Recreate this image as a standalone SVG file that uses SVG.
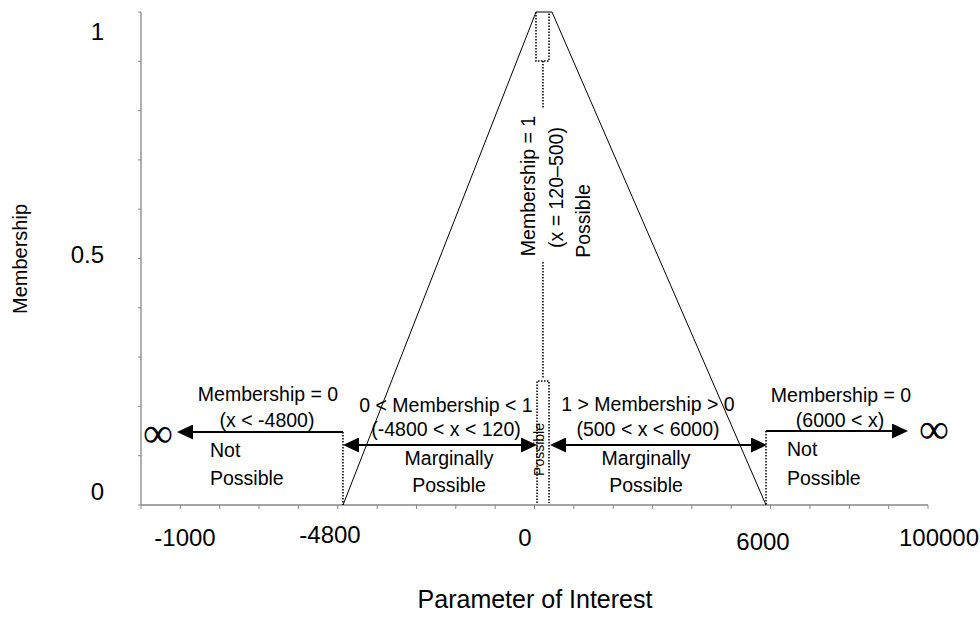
<svg xmlns="http://www.w3.org/2000/svg" width="980" height="624" viewBox="0 0 980 624">
<style>
text{font-family:"Liberation Sans",Arial,sans-serif;fill:#000}
.a{font-size:19.5px}
.n{font-size:24px}
.c{text-anchor:middle}
.e{text-anchor:end}
.ax{stroke:#868686;stroke-width:1.3;fill:none}
.tk{stroke:#868686;stroke-width:1;fill:none}
.leg{stroke:#000;stroke-width:1;fill:none}
.dot{stroke:#000;stroke-width:1.5;stroke-dasharray:1.5 1.5;fill:none}
.arr{stroke:#000;stroke-width:2;fill:none}
.inf{font-family:"Liberation Serif",serif;font-size:42px}
</style>
<defs>
<marker id="ah" markerUnits="userSpaceOnUse" markerWidth="16" markerHeight="15" refX="0" refY="7.5" orient="auto-start-reverse" viewBox="0 0 16 15">
<path d="M0,0 L16,7.5 L0,15 z" fill="#000"/>
</marker>
</defs>
<g id="axes">
<line class="ax" x1="141" y1="12" x2="141" y2="505"/>
<line class="ax" x1="141" y1="505" x2="928" y2="505"/>
<path class="tk" d="M138,12H141M138,61.3H141M138,110.6H141M138,159.9H141M138,209.2H141M138,258.5H141M138,307.8H141M138,357.1H141M138,406.4H141M138,455.7H141M138,505H141"/>
<path class="tk" d="M141,505V509M180.35,505V509M219.7,505V509M259.05,505V509M298.4,505V509M337.75,505V509M377.1,505V509M416.45,505V509M455.8,505V509M495.15,505V509M534.5,505V509M573.85,505V509M613.2,505V509M652.55,505V509M691.9,505V509M731.25,505V509M770.6,505V509M809.95,505V509M849.3,505V509M888.65,505V509M928,505V509"/>
<text class="n e" x="104" y="40">1</text>
<text class="n e" x="104" y="263">0.5</text>
<text class="n e" x="104" y="500">0</text>
<text class="n c" x="185" y="546">-1000</text>
<text class="n c" x="330" y="543">-4800</text>
<text class="n c" x="525" y="546">0</text>
<text class="n c" x="763" y="550">6000</text>
<text class="n c" x="939" y="546">100000</text>
<text class="c" font-size="20" transform="translate(27,259) rotate(-90)">Membership</text>
<text class="c" font-size="25" x="535" y="608">Parameter of Interest</text>
</g>
<g id="membership-curve">
<path class="leg" d="M343,505 L536,12 L552,12 L766,505"/>
</g>
<g id="connectors">
<line class="dot" x1="343" y1="432" x2="343" y2="505"/>
<line class="dot" x1="766" y1="431" x2="766" y2="505"/>
<path class="dot" d="M536,12 V61 H549 V12 M543,61 V108 M543,262 V379 M537,503 V381 H549 V503"/>
<line class="arr" x1="343" y1="432" x2="193" y2="432" marker-end="url(#ah)"/>
<line class="arr" x1="359" y1="445" x2="521" y2="445" marker-start="url(#ah)" marker-end="url(#ah)"/>
<line class="arr" x1="566" y1="445" x2="751" y2="445" marker-start="url(#ah)" marker-end="url(#ah)"/>
<line class="arr" x1="766" y1="431" x2="892" y2="431" marker-end="url(#ah)"/>
</g>
<g id="node-not-possible-left">
<text class="inf c" x="158" y="447">∞</text>
<text class="a c" x="268" y="401">Membership = 0</text>
<text class="a c" x="267" y="427">(x &lt; -4800)</text>
<text class="a" x="210" y="457">Not</text>
<text class="a" x="210" y="485">Possible</text>
</g>
<g id="node-marginal-left">
<text class="a c" x="446" y="412">0 &lt; Membership &lt; 1</text>
<text class="a c" x="446" y="436">(-4800 &lt; x &lt; 120)</text>
<text class="a c" x="449" y="465">Marginally</text>
<text class="a c" x="449" y="492">Possible</text>
</g>
<g id="node-possible">
<text class="a c" transform="translate(535,186) rotate(-90)">Membership = 1</text>
<text class="a c" transform="translate(563,187.5) rotate(-90)">(x = 120–500)</text>
<text class="a c" transform="translate(590,221) rotate(-90)">Possible</text>
<text class="c" font-size="14" transform="translate(544,449.5) rotate(-90)">Possible</text>
</g>
<g id="node-marginal-right">
<text class="a c" x="648" y="411">1 &gt; Membership &gt; 0</text>
<text class="a c" x="648" y="436">(500 &lt; x &lt; 6000)</text>
<text class="a c" x="646" y="465">Marginally</text>
<text class="a c" x="646" y="492">Possible</text>
</g>
<g id="node-not-possible-right">
<text class="inf c" x="934" y="443">∞</text>
<text class="a c" x="841" y="402">Membership = 0</text>
<text class="a c" x="840" y="427">(6000 &lt; x)</text>
<text class="a" x="787" y="456">Not</text>
<text class="a" x="787" y="485">Possible</text>
</g>
</svg>
